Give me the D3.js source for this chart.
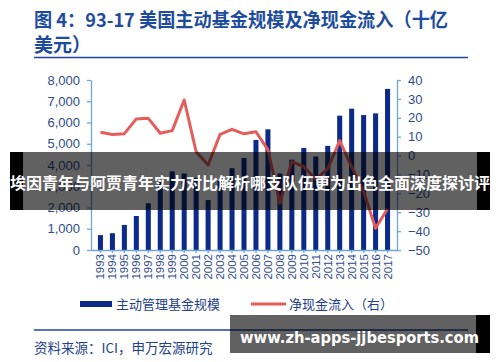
<!DOCTYPE html>
<html>
<head>
<meta charset="utf-8">
<script src="https://cdn.jsdelivr.net/npm/d3@7"></script>
<style>
  body { margin: 0; background: #fff; }
  svg { display: block; font-family: "Liberation Sans", Arial, sans-serif; }
</style>
</head>
<body>
<div id="chart"></div>
<script>
const years = ["1993","1994","1995","1996","1997","1998","1999","2000","2001","2002","2003","2004","2005",
               "2006","2007","2008","2009","2010","2011","2012","2013","2014","2015","2016","2017"];
// 主动管理基金规模 (left axis, 十亿美元)
const fundAssets = [700, 790, 1180, 1600, 2200, 3200, 3700, 3600, 3400, 2350, 3300, 3850, 4330,
                    5180, 5680, 3600, 4250, 4800, 4400, 4900, 6320, 6650, 6350, 6430, 7580];
// 净现金流入 (right axis)
const netFlow = [12.3, 11.2, 11.6, 19.4, 19.7, 11.8, 13.2, 29.4, 2.0, -5, 11.2, 13.9, 11.5,
                 12.6, 3.0, -25.2, -3.2, -5.9, -12.5, -7, 7.9, -6, -19, -38.5, -28.2];
const leftTicks = [0, 1000, 2000, 3000, 4000, 5000, 6000, 7000, 8000];
const rightTicks = [-50, -40, -30, -20, -10, 0, 10, 20, 30, 40];

const width = 500, height = 362;
const plot = { left: 91, right: 397, top: 80, bottom: 250 };
const blue = "#1d4c9c", axisBlue = "#6fa6dc", labelBlue = "#2f4c8c";

const svg = d3.select("#chart").append("svg")
    .attr("width", width)
    .attr("height", height);

// title
const title = svg.append("g")
    .attr("fill", blue)
    .attr("font-weight", "bold")
    .attr("font-size", 19)
    .attr("font-family", "'Noto Sans CJK SC', sans-serif");
title.append("text").attr("x", 34).attr("y", 27)
    .attr("textLength", 414).attr("lengthAdjust", "spacingAndGlyphs")
    .text("图 4：93-17 美国主动基金规模及净现金流入（十亿");
title.append("text").attr("x", 34).attr("y", 52).text("美元）");
svg.append("line").attr("x1", 34).attr("x2", 468).attr("y1", 57.5).attr("y2", 57.5)
    .attr("stroke", "#1f45a0").attr("stroke-width", 1.5);

const x = d3.scaleBand().domain(years).range([plot.left, plot.right]).padding(0.58);
const yL = d3.scaleLinear().domain([0, 8000]).range([plot.bottom, plot.top]);
const yR = d3.scaleLinear().domain([-50, 40]).range([plot.bottom, plot.top]);

// bars
svg.append("g").selectAll("rect")
    .data(fundAssets)
    .join("rect")
    .attr("x", (d, i) => x(years[i]))
    .attr("width", x.bandwidth())
    .attr("y", d => yL(d))
    .attr("height", d => yL(0) - yL(d))
    .attr("fill", "#0b2a8a");

// line
const line = d3.line()
    .x((d, i) => x(years[i]) + x.bandwidth() / 2)
    .y(d => yR(d));
svg.append("path")
    .datum(netFlow)
    .attr("d", line)
    .attr("fill", "none")
    .attr("stroke", "#e35d5b")
    .attr("stroke-width", 3)
    .attr("stroke-linejoin", "round");

function styleAxis(g) {
    g.selectAll(".domain, line").attr("stroke", axisBlue).attr("stroke-width", 1.3);
    g.selectAll("text").attr("fill", labelBlue);
}

const leftAxis = d3.axisLeft(yL).tickValues(leftTicks).tickSize(4).tickSizeOuter(0)
    .tickFormat(d3.format(","));
svg.append("g")
    .attr("transform", `translate(${plot.left},0)`)
    .call(leftAxis)
    .call(styleAxis)
    .call(g => g.selectAll("text").attr("font-size", 13).attr("x", -11));

const rightAxis = d3.axisRight(yR).tickValues(rightTicks).tickSize(4).tickSizeOuter(0);
svg.append("g")
    .attr("transform", `translate(${plot.right},0)`)
    .call(rightAxis)
    .call(styleAxis)
    .call(g => g.selectAll("text").attr("font-size", 13).attr("x", 11));

const bottomAxis = d3.axisBottom(x).tickSize(3).tickSizeOuter(0);
svg.append("g")
    .attr("transform", `translate(0,${plot.bottom})`)
    .call(bottomAxis)
    .call(styleAxis)
    .call(g => g.selectAll("text")
        .attr("font-size", 11.5)
        .attr("text-anchor", "end")
        .attr("transform", "rotate(-90)")
        .attr("x", -4).attr("y", 0).attr("dy", "0.35em"));

// legend
const legend = svg.append("g")
    .attr("font-family", "'Noto Sans CJK SC', sans-serif")
    .attr("font-size", 13)
    .attr("fill", "#23418a");
legend.append("rect").attr("x", 80).attr("y", 301).attr("width", 32).attr("height", 6).attr("fill", "#0b2a8a");
legend.append("text").attr("x", 116).attr("y", 309).text("主动管理基金规模");
legend.append("rect").attr("x", 251).attr("y", 302.5).attr("width", 35).attr("height", 3).attr("fill", "#e35d5b");
legend.append("text").attr("x", 289).attr("y", 309).text("净现金流入（右）");

svg.append("line").attr("x1", 34).attr("x2", 468).attr("y1", 330).attr("y2", 330)
    .attr("stroke", "#1f45a0").attr("stroke-width", 1.3);
svg.append("text")
    .attr("x", 34).attr("y", 353)
    .attr("font-family", "'Noto Sans CJK SC', sans-serif")
    .attr("font-size", 13.5)
    .attr("fill", "#23418a")
    .text("资料来源：ICI，申万宏源研究");

// overlay banners
const b1 = svg.append("g");
b1.append("rect").attr("x", 10).attr("y", 152).attr("width", 480).attr("height", 58)
    .attr("fill", "rgba(0,0,0,0.62)");
b1.append("rect").attr("x", 10).attr("y", 152).attr("width", 13).attr("height", 58).attr("fill", "#000");
b1.append("rect").attr("x", 477).attr("y", 152).attr("width", 13).attr("height", 58).attr("fill", "#000");
b1.append("text").attr("x", 10).attr("y", 189)
    .attr("font-family", "'Noto Sans CJK SC', sans-serif")
    .attr("font-weight", "bold").attr("font-size", 16).attr("fill", "#fff")
    .attr("textLength", 480).attr("lengthAdjust", "spacingAndGlyphs")
    .text("埃因青年与阿贾青年实力对比解析哪支队伍更为出色全面深度探讨评");

const b2 = svg.append("g");
b2.append("rect").attr("x", 230).attr("y", 315).attr("width", 260).attr("height", 38)
    .attr("fill", "rgba(0,0,0,0.62)");
b2.append("rect").attr("x", 476).attr("y", 315).attr("width", 14).attr("height", 38).attr("fill", "#000");
b2.append("text").attr("x", 240).attr("y", 343)
    .attr("font-family", "'DejaVu Sans', sans-serif")
    .attr("font-weight", "bold").attr("font-size", 16).attr("fill", "#fff")
    .attr("textLength", 239).attr("lengthAdjust", "spacingAndGlyphs")
    .text("www.zh-apps-jjbesports.com");
</script>
</body>
</html>
